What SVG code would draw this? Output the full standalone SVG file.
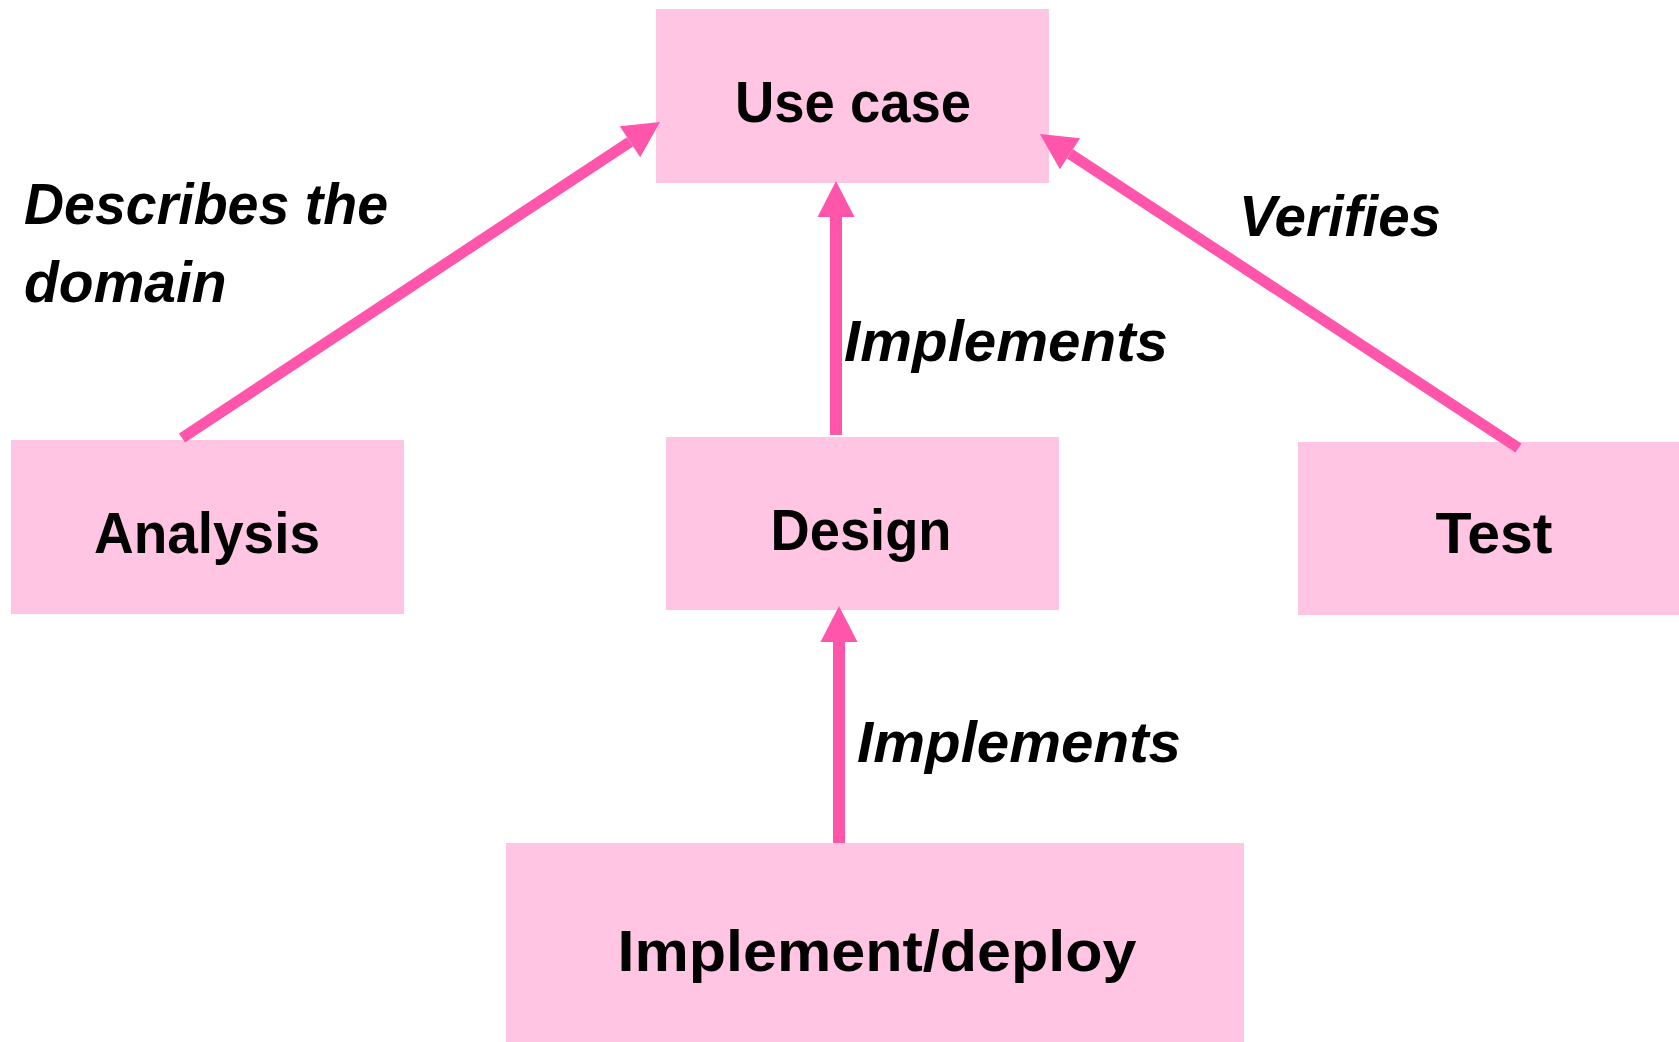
<svg xmlns="http://www.w3.org/2000/svg" width="1679" height="1042" viewBox="0 0 1679 1042">
  <style>
    .box { fill: #FFC5E2; }
    .node-label { font-family: "Liberation Sans", Arial, sans-serif; font-weight: bold; font-size: 57px; fill: #000; text-anchor: middle; }
    .edge-label { font-family: "Liberation Sans", Arial, sans-serif; font-weight: bold; font-style: italic; font-size: 57px; fill: #000; }
    .edge { stroke: #FF55AA; fill: none; stroke-linecap: butt; }
  </style>
  <defs>
    <marker id="head" markerUnits="userSpaceOnUse" markerWidth="36" markerHeight="37" refX="0" refY="18.5" orient="auto" overflow="visible">
      <path d="M0,0 L36,18.5 L0,37 Z" fill="#FF55AA"/>
    </marker>
  </defs>
  <rect width="1679" height="1042" fill="#FFFFFF"/>

  <g id="use-case">
    <rect class="box" x="656" y="9" width="393" height="174"/>
    <text class="node-label" x="853" y="122" textLength="236" lengthAdjust="spacingAndGlyphs">Use case</text>
  </g>
  <g id="analysis">
    <rect class="box" x="11" y="440" width="393" height="174"/>
    <text class="node-label" x="207" y="553" textLength="226" lengthAdjust="spacingAndGlyphs">Analysis</text>
  </g>
  <g id="design">
    <rect class="box" x="666" y="437" width="393" height="173"/>
    <text class="node-label" x="861" y="550" textLength="181" lengthAdjust="spacingAndGlyphs">Design</text>
  </g>
  <g id="test">
    <rect class="box" x="1298" y="442" width="400" height="173"/>
    <text class="node-label" x="1494" y="553" textLength="117" lengthAdjust="spacingAndGlyphs">Test</text>
  </g>
  <g id="implement-deploy">
    <rect class="box" x="506" y="843" width="738" height="210"/>
    <text class="node-label" x="877" y="971" textLength="519" lengthAdjust="spacingAndGlyphs">Implement/deploy</text>
  </g>

  <g id="connectors">
    <line class="edge" x1="182" y1="438" x2="630" y2="141.8" stroke-width="11" marker-end="url(#head)"/>
    <line class="edge" x1="1518.5" y1="448" x2="1070" y2="153.8" stroke-width="11" marker-end="url(#head)"/>
    <line class="edge" x1="836" y1="435" x2="836" y2="217" stroke-width="12" marker-end="url(#head)"/>
    <line class="edge" x1="839" y1="843" x2="839" y2="642" stroke-width="12" marker-end="url(#head)"/>
    <text class="edge-label" x="24" y="224" textLength="364" lengthAdjust="spacingAndGlyphs">Describes the</text>
    <text class="edge-label" x="24" y="302">domain</text>
    <text class="edge-label" x="844" y="361" textLength="324" lengthAdjust="spacingAndGlyphs">Implements</text>
    <text class="edge-label" x="1239" y="236" textLength="202" lengthAdjust="spacingAndGlyphs">Verifies</text>
    <text class="edge-label" x="857" y="762" textLength="324" lengthAdjust="spacingAndGlyphs">Implements</text>
  </g>
</svg>
